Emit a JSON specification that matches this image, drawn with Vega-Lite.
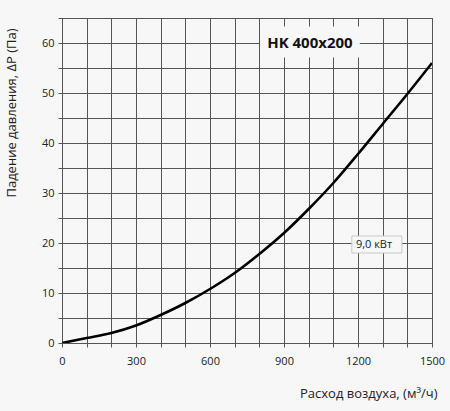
{
  "$schema": "https://vega.github.io/schema/vega-lite/v6.json",
  "width": 370,
  "height": 325,
  "autosize": "none",
  "padding": {"left": 62, "top": 18, "right": 18, "bottom": 68},
  "background": "#f7f7f7",
  "config": {
    "view": {"stroke": "#555555", "strokeWidth": 1},
    "font": "Open Sans",
    "axis": {
      "gridColor": "#555555",
      "gridOpacity": 1,
      "gridWidth": 1,
      "domain": false,
      "tickColor": "#555555",
      "tickSize": 4,
      "labelOverlap": false,
      "labelFlush": false,
      "labelFont": "Open Sans",
      "labelFontSize": 11,
      "labelColor": "#222222",
      "titleFont": "Open Sans",
      "titleFontSize": 13,
      "titleFontWeight": "normal",
      "titleColor": "#222222"
    }
  },
  "datasets": {
    "curve": [
      {"q": 0, "dp": 0},
      {"q": 100, "dp": 1.0},
      {"q": 200, "dp": 2.0},
      {"q": 300, "dp": 3.5},
      {"q": 400, "dp": 5.6},
      {"q": 500, "dp": 8.0},
      {"q": 600, "dp": 10.8},
      {"q": 700, "dp": 14.0},
      {"q": 800, "dp": 17.8},
      {"q": 900, "dp": 22.0},
      {"q": 1000, "dp": 26.8},
      {"q": 1100, "dp": 32.0},
      {"q": 1200, "dp": 37.8},
      {"q": 1300, "dp": 43.8},
      {"q": 1400, "dp": 49.8},
      {"q": 1500, "dp": 56.0}
    ],
    "labels": [
      {"x1": 805, "x2": 1205, "y1": 57.2, "y2": 63.2, "tx": 1005, "ty": 60, "text": "HK 400x200", "kind": "title"},
      {"x1": 1175, "x2": 1378, "y1": 18.0, "y2": 21.4, "tx": 1265, "ty": 19.7, "text": "9,0 кВт", "kind": "power"}
    ]
  },
  "layer": [
    {
      "data": {"name": "curve"},
      "mark": {"type": "line", "color": "black", "strokeWidth": 2.6, "interpolate": "monotone", "clip": true},
      "encoding": {
        "x": {
          "field": "q",
          "type": "quantitative",
          "scale": {"domain": [0, 1500], "nice": false},
          "axis": {
            "values": [0, 100, 200, 300, 400, 500, 600, 700, 800, 900, 1000, 1100, 1200, 1300, 1400, 1500],
            "tickCount": 40,
            "format": "d",
            "labelExpr": "datum.value % 300 == 0 ? datum.label : ''",
            "labelPadding": 8,
            "title": "Расход воздуха, (м³/ч)",
            "titleAnchor": "end",
            "titleAlign": "right",
            "titleBaseline": "top",
            "titleX": 375,
            "titleY": 44
          }
        },
        "y": {
          "field": "dp",
          "type": "quantitative",
          "scale": {"domain": [0, 65], "nice": false},
          "axis": {
            "values": [0, 5, 10, 15, 20, 25, 30, 35, 40, 45, 50, 55, 60, 65],
            "tickCount": 40,
            "labelExpr": "datum.value % 10 == 0 ? datum.label : ''",
            "labelPadding": 4,
            "title": "Падение давления, ΔP (Па)",
            "titleAnchor": "end",
            "titleX": -44,
            "titleY": 10,
            "titleAlign": "right",
            "titleAngle": -90
          }
        }
      }
    },
    {
      "data": {"name": "labels"},
      "mark": {"type": "rect", "fill": "#f7f7f7"},
      "encoding": {
        "x": {"field": "x1", "type": "quantitative"},
        "x2": {"field": "x2"},
        "y": {"field": "y1", "type": "quantitative"},
        "y2": {"field": "y2"},
        "stroke": {
          "field": "kind",
          "type": "nominal",
          "scale": {"domain": ["title", "power"], "range": ["#f7f7f7", "#c8c8c8"]},
          "legend": null
        }
      }
    },
    {
      "data": {"name": "labels"},
      "transform": [{"filter": "datum.kind == 'title'"}],
      "mark": {"type": "text", "fontSize": 15, "fontWeight": "bold", "font": "Open Sans", "color": "#111111"},
      "encoding": {
        "x": {"field": "tx", "type": "quantitative"},
        "y": {"field": "ty", "type": "quantitative"},
        "text": {"field": "text"}
      }
    },
    {
      "data": {"name": "labels"},
      "transform": [{"filter": "datum.kind == 'power'"}],
      "mark": {"type": "text", "fontSize": 11, "font": "Open Sans", "color": "#222222"},
      "encoding": {
        "x": {"field": "tx", "type": "quantitative"},
        "y": {"field": "ty", "type": "quantitative"},
        "text": {"field": "text"}
      }
    }
  ]
}
